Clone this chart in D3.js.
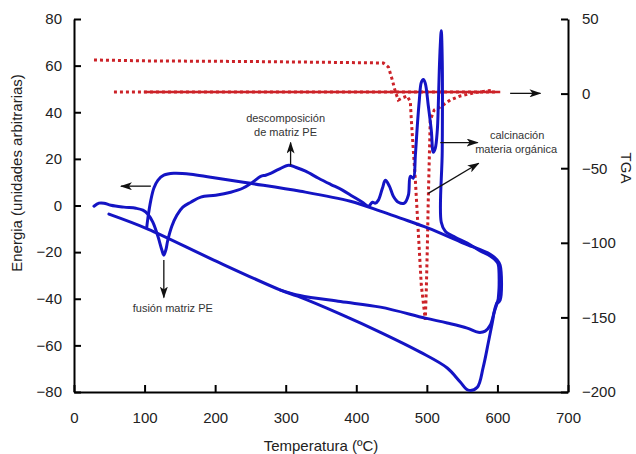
<!DOCTYPE html>
<meta charset="utf-8">
<html>
<head>
<style>
  body { margin: 0; background: #fff; }
  text { font-family: "Liberation Sans", Arial, sans-serif; }
</style>
</head>
<body>
<div id="chart"></div>
<script src="https://d3js.org/d3.v7.min.js"></script>
<script>

  // DSC curve pieces [temperature, energy]
  var dscFirstRun = [
    [28.3,-0.3],[35.4,1.0],[42.4,1.0],[52.3,0.1],[70.7,-0.7],[87.7,-1.2],[97.6,-2.0],
    [104.7,-3.7],[111.7,-7.1],[118.8,-13.1],[124.5,-19.1],[127.3,-21.3],[130.1,-19.1],
    [132.9,-14.9],[138.6,-8.9],[145.7,-4.2],[154.2,-0.7],[165.5,1.4],[179.6,3.6],
    [200.8,4.4],[222.0,5.7],[239.0,7.4],[253.1,10.0],[264.5,12.5],[271.5,13.0],
    [278.6,13.8],[289.9,15.5],[304.1,17.3],[314.0,16.4],[328.1,14.7],[346.5,11.7],
    [363.5,9.1],[380.4,6.6],[394.6,4.0],[408.7,1.4],[417.2,-0.3],[422.9,1.4],
    [427.1,1.0],[431.3,2.3],[437.0,7.4],[441.2,10.8],[446.9,8.3],[452.5,4.0],
    [459.6,1.4],[468.1,1.0],[473.8,4.4],[476.6,12.5],[480.8,11.7],[483.7,21.5],
    [486.5,34.3],[489.3,45.1],[492.1,52.8],[495.0,54.1],[497.8,52.4],[502.0,42.9],
    [506.3,32.2],[509.1,22.8],[511.9,24.5],[514.8,32.2],[516.2,42.9],[517.6,57.9],
    [519.0,68.6],[520.4,75.0],[521.8,62.2],[521.8,23.6],[520.4,-7.2],[526.1,-11.0],
    [540.2,-13.6],[557.2,-16.1],[575.6,-19.5],[589.7,-21.7],[598.2,-23.8],
    [601.0,-25.1],[602.4,-34.1],[601.0,-40.5]
  ];
  var dscUpperReturn = [
    [103.0,-9.6],[104.7,-5.4],[108.9,2.3],[113.1,7.4],[118.8,10.8],[127.3,13.0],
    [141.4,13.8],[165.5,13.4],[193.8,12.1],[250.3,9.5],[321.0,6.1],[391.7,1.8],
    [434.2,-2.4],[462.4,-5.4],[502.0,-9.7],[551.5,-16.1],[589.7,-20.9],[599.6,-23.4],
    [603.8,-25.6],[603.8,-40.6],[599.6,-41.9]
  ];
  var dscLowerLoop = [
    [49.5,-3.7],[104.7,-10.1],[198.0,-23.4],[292.7,-36.3],[316.8,-38.9],[377.6,-46.6],
    [434.2,-54.4],[490.7,-62.9],[528.9,-69.7],[547.3,-75.7],[558.6,-79.2],[571.3,-78.0],
    [579.8,-69.4],[586.9,-59.1],[592.5,-50.6],[596.8,-43.8],[601.0,-40.6]
  ];
  var dscMiddle = [
    [292.7,-36.3],[320.0,-38.6],[377.6,-41.2],[434.2,-43.6],[497.8,-48.3],[528.9,-50.4],
    [557.2,-52.6],[572.8,-54.4],[582.7,-53.9],[589.7,-51.4],[595.4,-45.8],[599.6,-41.9]
  ];

  // TGA curves [temperature, tga]
  var tgaDotted = [
    [28.3,22.5],[108.9,21.9],[250.3,21.5],[391.7,20.8],[438.4,20.5],[445.5,17.8],
    [451.1,9.1],[455.4,1.1],[459.6,-4.3],[465.3,-2.9],[472.3,-1.6],[476.6,-5.6],
    [478.0,-17.7],[480.8,-37.8],[483.7,-57.9],[486.5,-81.4],[489.3,-104.8],
    [492.1,-128.3],[497.8,-151.7],[499.2,-131.6],[500.6,-104.8],[502.0,-71.3],
    [503.4,-44.5],[504.8,-17.7],[510.5,-11.0],[519.0,-9.0],[533.1,-4.3],
    [547.3,-1.6],[565.7,0.4],[594.0,2.4]
  ];
  var tgaBaseDotted = [[56.6,1.1],[200,1.1],[350,1.0],[500,1.0],[600,1.0]];
  var tgaBaseSolid = [[99,1.0],[604,1.0]];

  var xTicks = [0,100,200,300,400,500,600,700];
  var yLeftTicks = [-80,-60,-40,-20,0,20,40,60,80];
  var yRightTicks = [-200,-150,-100,-50,0,50];

  var margin = {top: 19, right: 68, bottom: 62, left: 74},
      width = 636 - margin.left - margin.right,
      height = 454 - margin.top - margin.bottom;

  var svg = d3.select("#chart")
    .append("svg")
      .attr("width", 636)
      .attr("height", 454)
    .append("g")
      .attr("transform", "translate(" + margin.left + "," + margin.top + ")");

  var defs = svg.append("defs");
  defs.append("marker")
    .attr("id", "arrow")
    .attr("viewBox", "0 0 12 8")
    .attr("refX", 11).attr("refY", 4)
    .attr("markerWidth", 12).attr("markerHeight", 8)
    .attr("markerUnits", "userSpaceOnUse")
    .attr("orient", "auto")
    .append("path")
      .attr("d", "M0,0 L12,4 L0,8 L3,4 Z")
      .attr("fill", "#111");

  var x = d3.scaleLinear().domain([0, 700]).range([0, width]);
  var yL = d3.scaleLinear().domain([-80, 80]).range([height, 0]);
  var yR = d3.scaleLinear().domain([-200, 50]).range([height, 0]);

  // axes
  var xAxis = svg.append("g")
    .attr("transform", "translate(0," + height + ")")
    .call(d3.axisBottom(x).tickValues(xTicks).tickSize(-7).tickSizeOuter(0).tickPadding(20));
  var yAxisL = svg.append("g")
    .call(d3.axisLeft(yL).tickValues(yLeftTicks).tickSize(-7).tickSizeOuter(0).tickPadding(12));
  var yAxisR = svg.append("g")
    .attr("transform", "translate(" + width + ",0)")
    .call(d3.axisRight(yR).tickValues(yRightTicks).tickSize(-7).tickSizeOuter(0).tickPadding(14));

  [xAxis, yAxisL, yAxisR].forEach(function(a) {
    a.select(".domain").attr("stroke", "#000").attr("stroke-width", 2);
    a.selectAll(".tick line").attr("stroke", "#000").attr("stroke-width", 2);
    a.selectAll(".tick text")
      .attr("font-size", 15)
      .attr("font-family", "Liberation Sans, Arial, sans-serif")
      .attr("fill", "#222");
  });

  // axis titles
  svg.append("text")
    .attr("x", width / 2).attr("y", height + 59)
    .attr("text-anchor", "middle")
    .attr("font-size", 15).attr("fill", "#222")
    .text("Temperatura (ºC)");

  svg.append("text")
    .attr("transform", "translate(" + (-52) + "," + 154 + ") rotate(-90)")
    .attr("text-anchor", "middle")
    .attr("font-size", 15).attr("fill", "#222")
    .text("Energia (unidades arbitrarias)");

  svg.append("text")
    .attr("transform", "translate(" + (width + 53) + "," + 149 + ") rotate(90)")
    .attr("text-anchor", "middle")
    .attr("font-size", 15).attr("fill", "#222")
    .text("TGA");

  // lines
  var lineL = d3.line()
    .x(function(d) { return x(d[0]); })
    .y(function(d) { return yL(d[1]); })
    .curve(d3.curveCatmullRom.alpha(0.5));
  var lineR = d3.line()
    .x(function(d) { return x(d[0]); })
    .y(function(d) { return yR(d[1]); })
    .curve(d3.curveLinear);

  var red = "#cc2228", blue = "#1414c4";

  svg.append("path").datum(tgaBaseDotted)
    .attr("fill", "none").attr("stroke", red).attr("stroke-width", 3)
    .attr("stroke-dasharray", "3,3").attr("d", lineR);
  svg.append("path").datum(tgaBaseSolid)
    .attr("fill", "none").attr("stroke", red).attr("stroke-width", 2.5)
    .attr("d", lineR);
  svg.append("path").datum(tgaDotted)
    .attr("fill", "none").attr("stroke", red).attr("stroke-width", 3)
    .attr("stroke-dasharray", "3,3").attr("d", lineR);

  [dscLowerLoop, dscMiddle, dscUpperReturn, dscFirstRun].forEach(function(seg) {
    svg.append("path").datum(seg)
      .attr("fill", "none").attr("stroke", blue).attr("stroke-width", 3)
      .attr("stroke-linejoin", "round").attr("stroke-linecap", "round")
      .attr("d", lineL);
  });

  // annotations in data units (temperature, energy)
  var arrows = [
    [108.9, 8.3, 66.5, 8.3],
    [306.9, 17.3, 306.9, 27.0],
    [127.3, -23.4, 127.3, -39.5],
    [519.0, 27.0, 572.0, 27.0],
    [502.0, 5.2, 573.5, 18.1],
    [618.0, 48.1, 661.0, 48.1]
  ];
  arrows.forEach(function(a) {
    svg.append("line")
      .attr("x1", x(a[0])).attr("y1", yL(a[1]))
      .attr("x2", x(a[2])).attr("y2", yL(a[3]))
      .attr("stroke", "#111").attr("stroke-width", 1.3)
      .attr("marker-end", "url(#arrow)");
  });

  var notes = [
    [299.8, 36.0, "descomposición"],
    [299.8, 29.6, "de matriz PE"],
    [140.0, -45.6, "fusión matriz PE"],
    [627.9, 28.4, "calcinación"],
    [626.5, 22.4, "materia orgánica"]
  ];
  notes.forEach(function(n) {
    svg.append("text")
      .attr("x", x(n[0])).attr("y", yL(n[1]))
      .attr("text-anchor", "middle")
      .attr("font-size", 11).attr("fill", "#333")
      .text(n[2]);
  });

</script>
</body>
</html>
